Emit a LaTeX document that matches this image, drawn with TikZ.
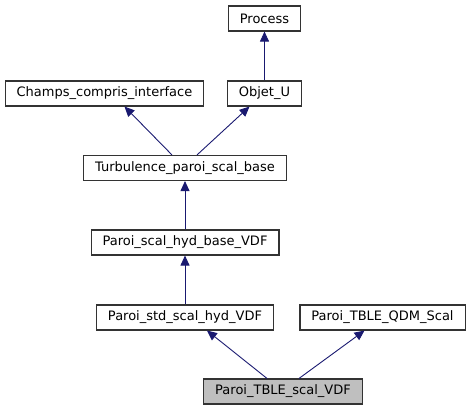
\documentclass[tikz,border=0pt]{standalone}
\usepackage{fontspec}
\setmainfont{DejaVu Sans}
\usetikzlibrary{arrows.meta}

\begin{document}
\begin{tikzpicture}[x=1pt, y=-1pt,
            class box/.style={draw=black!80, line width=1.1pt, fill=white,
                minimum height=25pt, inner xsep=11.5pt, inner ysep=0pt,
                font=\fontsize{13}{15}\selectfont},
            this box/.style={class box, fill=black!25},
            inherit/.style={draw={rgb,255:red,25;green,25;blue,112}, line width=0.9pt,
                -{Triangle[length=10pt, width=9pt, fill={rgb,255:red,25;green,25;blue,112}]}}
            ]
            \useasboundingbox (0, 0) rectangle (471, 411);

            \node[class box] (process) at (264.5, 18.5) {Process};
            \node[class box] (champs) at (104.5, 93.5) {Champs\_compris\_interface};
            \node[class box] (objet) at (264.5, 93.5) {Objet\_U};
            \node[class box] (turbbase) at (185, 168) {Turbulence\_paroi\_scal\_base};
            \node[class box] (hydbase) at (185, 242.5) {Paroi\_scal\_hyd\_base\_VDF};
            \node[class box] (stdhyd) at (185, 317.5) {Paroi\_std\_scal\_hyd\_VDF};
            \node[class box] (qdmscal) at (382.5, 317.5) {Paroi\_TBLE\_QDM\_Scal};
            \node[this box] (tblescal) at (283, 391.5) {Paroi\_TBLE\_scal\_VDF};

            \draw[inherit] (objet) -- (process);
            \draw[inherit] ([xshift=-13pt] turbbase.north) -- ([xshift=20pt] champs.south);
            \draw[inherit] ([xshift=12pt] turbbase.north) -- ([xshift=-15pt] objet.south);
            \draw[inherit] (hydbase) -- (turbbase);
            \draw[inherit] (stdhyd) -- (hydbase);
            \draw[inherit] ([xshift=-16pt] tblescal.north) -- ([xshift=22pt] stdhyd.south);
            \draw[inherit] ([xshift=16pt] tblescal.north) -- ([xshift=-18pt] qdmscal.south);
        \end{tikzpicture}
\end{document}
